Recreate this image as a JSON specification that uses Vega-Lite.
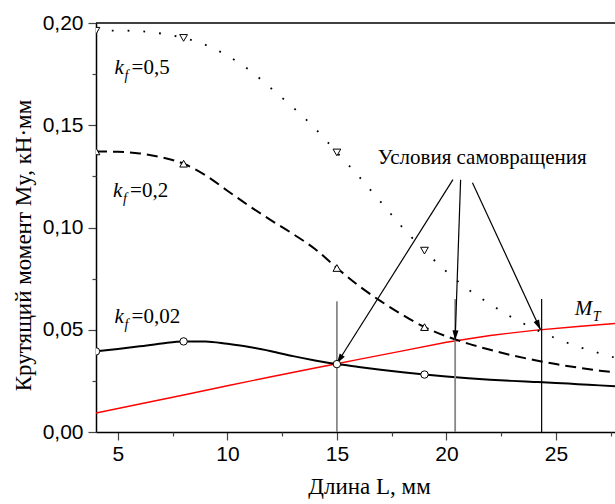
{
  "$schema": "https://vega.github.io/schema/vega-lite/v6.json",
  "width": 519,
  "height": 409,
  "autosize": {"type": "none"},
  "padding": {"left": 96, "top": 23, "right": 0, "bottom": 72},
  "background": "white",
  "config": {
    "view": {"stroke": null},
    "font": "Liberation Serif",
    "axis": {
      "grid": false,
      "domainColor": "black", "domainWidth": 1.5,
      "tickColor": "#444", "tickWidth": 1.2,
      "labelFont": "Liberation Sans", "labelFontSize": 21, "labelColor": "black",
      "titleFont": "Liberation Serif", "titleFontSize": 23, "titleFontWeight": "normal", "titleColor": "black"
    }
  },
  "resolve": {"axis": {"x": "independent", "y": "independent"}},
  "datasets": {
    "curves": [
      {"s": "k002", "x": 4, "y": 0.0394}, {"s": "k002", "x": 5, "y": 0.0406}, {"s": "k002", "x": 6, "y": 0.0419}, {"s": "k002", "x": 7, "y": 0.0433},
      {"s": "k002", "x": 8, "y": 0.0443}, {"s": "k002", "x": 9, "y": 0.0443}, {"s": "k002", "x": 10, "y": 0.0431}, {"s": "k002", "x": 11, "y": 0.0416},
      {"s": "k002", "x": 12, "y": 0.0395}, {"s": "k002", "x": 13, "y": 0.0371}, {"s": "k002", "x": 14, "y": 0.0350}, {"s": "k002", "x": 15, "y": 0.0332},
      {"s": "k002", "x": 16, "y": 0.0318}, {"s": "k002", "x": 17, "y": 0.0304}, {"s": "k002", "x": 18, "y": 0.0292}, {"s": "k002", "x": 19, "y": 0.0281},
      {"s": "k002", "x": 20, "y": 0.0271}, {"s": "k002", "x": 21, "y": 0.0263}, {"s": "k002", "x": 22, "y": 0.0256}, {"s": "k002", "x": 23, "y": 0.0250},
      {"s": "k002", "x": 24, "y": 0.0245}, {"s": "k002", "x": 25, "y": 0.0240}, {"s": "k002", "x": 26, "y": 0.0234}, {"s": "k002", "x": 27, "y": 0.0228},
      {"s": "k002", "x": 28, "y": 0.0222},
      {"s": "k02", "x": 4, "y": 0.1372}, {"s": "k02", "x": 5, "y": 0.1370}, {"s": "k02", "x": 6, "y": 0.1362}, {"s": "k02", "x": 7, "y": 0.1343},
      {"s": "k02", "x": 8, "y": 0.1312}, {"s": "k02", "x": 9, "y": 0.1255}, {"s": "k02", "x": 10, "y": 0.1180}, {"s": "k02", "x": 11, "y": 0.1105},
      {"s": "k02", "x": 12, "y": 0.1035}, {"s": "k02", "x": 13, "y": 0.0968}, {"s": "k02", "x": 14, "y": 0.0895}, {"s": "k02", "x": 15, "y": 0.0802},
      {"s": "k02", "x": 16, "y": 0.0715}, {"s": "k02", "x": 17, "y": 0.0640}, {"s": "k02", "x": 18, "y": 0.0573}, {"s": "k02", "x": 19, "y": 0.0513},
      {"s": "k02", "x": 20, "y": 0.0468}, {"s": "k02", "x": 21, "y": 0.0432}, {"s": "k02", "x": 22, "y": 0.0402}, {"s": "k02", "x": 23, "y": 0.0375},
      {"s": "k02", "x": 24, "y": 0.0352}, {"s": "k02", "x": 25, "y": 0.0332}, {"s": "k02", "x": 26, "y": 0.0315}, {"s": "k02", "x": 27, "y": 0.0300},
      {"s": "k02", "x": 28, "y": 0.0288},
      {"s": "k05", "x": 4, "y": 0.1962}, {"s": "k05", "x": 5, "y": 0.1963}, {"s": "k05", "x": 6, "y": 0.1960}, {"s": "k05", "x": 7, "y": 0.1948},
      {"s": "k05", "x": 8, "y": 0.1927}, {"s": "k05", "x": 9, "y": 0.1893}, {"s": "k05", "x": 10, "y": 0.1840}, {"s": "k05", "x": 11, "y": 0.1770},
      {"s": "k05", "x": 12, "y": 0.1680}, {"s": "k05", "x": 13, "y": 0.1587}, {"s": "k05", "x": 14, "y": 0.1485}, {"s": "k05", "x": 15, "y": 0.1367},
      {"s": "k05", "x": 16, "y": 0.1250}, {"s": "k05", "x": 17, "y": 0.1125}, {"s": "k05", "x": 18, "y": 0.1000}, {"s": "k05", "x": 19, "y": 0.0887},
      {"s": "k05", "x": 20, "y": 0.0785}, {"s": "k05", "x": 21, "y": 0.0697}, {"s": "k05", "x": 22, "y": 0.0625}, {"s": "k05", "x": 23, "y": 0.0560},
      {"s": "k05", "x": 24, "y": 0.0505}, {"s": "k05", "x": 25, "y": 0.0458}, {"s": "k05", "x": 26, "y": 0.0418}, {"s": "k05", "x": 27, "y": 0.0385},
      {"s": "k05", "x": 28, "y": 0.0355},
      {"s": "mt", "x": 4, "y": 0.0093}, {"s": "mt", "x": 6, "y": 0.0137}, {"s": "mt", "x": 8, "y": 0.0181}, {"s": "mt", "x": 10, "y": 0.0226},
      {"s": "mt", "x": 12, "y": 0.0270}, {"s": "mt", "x": 14, "y": 0.0313}, {"s": "mt", "x": 15, "y": 0.0334}, {"s": "mt", "x": 16, "y": 0.0355},
      {"s": "mt", "x": 18, "y": 0.0397}, {"s": "mt", "x": 20, "y": 0.0439}, {"s": "mt", "x": 22, "y": 0.0472}, {"s": "mt", "x": 24, "y": 0.0497},
      {"s": "mt", "x": 26, "y": 0.0516}, {"s": "mt", "x": 28, "y": 0.0533}
    ],
    "markers": [
      {"s": "c", "x": 4, "y": 0.0394}, {"s": "c", "x": 8, "y": 0.0443}, {"s": "c", "x": 15, "y": 0.0332}, {"s": "c", "x": 19, "y": 0.0281},
      {"s": "tu", "x": 4, "y": 0.1372}, {"s": "tu", "x": 8, "y": 0.1312}, {"s": "tu", "x": 15, "y": 0.0802}, {"s": "tu", "x": 19, "y": 0.0513},
      {"s": "td", "x": 4, "y": 0.1962}, {"s": "td", "x": 8, "y": 0.1927}, {"s": "td", "x": 15, "y": 0.1367}, {"s": "td", "x": 19, "y": 0.0887}
    ],
    "arrows": [
      {"x": 20.30, "y": 0.1234, "x2": 15, "y2": 0.0335},
      {"x": 20.65, "y": 0.1234, "x2": 20.4, "y2": 0.0448},
      {"x": 21.19, "y": 0.1219, "x2": 24.3, "y2": 0.0500}
    ],
    "kf": [
      {"x": 4.85, "y": 0.1752, "t": "=0,5"},
      {"x": 4.78, "y": 0.1147, "t": "=0,2"},
      {"x": 4.85, "y": 0.0533, "t": "=0,02"}
    ]
  },
  "encoding": {
    "x": {"field": "x", "type": "quantitative", "scale": {"domain": [4, 27.7], "nice": false, "zero": false}, "axis": null},
    "y": {"field": "y", "type": "quantitative", "scale": {"domain": [0, 0.2], "nice": false, "zero": false}, "axis": null}
  },
  "layer": [
    {
      "data": {"name": "curves"},
      "transform": [{"filter": "datum.s === 'mt'"}],
      "mark": {"type": "line", "color": "#ff0000", "strokeWidth": 1.4, "clip": true},
      "encoding": {
        "x": {
          "field": "x", "type": "quantitative", "scale": {"domain": [4, 27.7], "nice": false, "zero": false},
          "axis": {
            "orient": "bottom",
            "values": [5, 10, 15, 20, 25],
            "format": "d",
            "tickSize": 8, "labelPadding": 3, "labelFlush": false,
            "title": "Длина L, мм",
            "titleFontSize": 23,
            "titleAnchor": "start",
            "titleX": 273, "titleY": 61, "titleAlign": "center", "titleBaseline": "alphabetic"
          }
        },
        "y": {
          "field": "y", "type": "quantitative", "scale": {"domain": [0, 0.2], "nice": false, "zero": false},
          "axis": {
            "orient": "left",
            "values": [0, 0.05, 0.1, 0.15, 0.2],
            "labelExpr": "replace(format(datum.value, '.2f'), '.', ',')",
            "tickSize": 8, "labelPadding": 5, "labelFlush": false,
            "title": "Крутящий момент  My, кН·мм",
            "titleAngle": -90, "titleX": -66, "titleY": 222, "titleAlign": "center", "titleBaseline": "alphabetic"
          }
        }
      }
    },
    {
      "data": {"name": "curves"},
      "transform": [{"filter": "datum.s === 'k002'"}],
      "mark": {"type": "line", "color": "black", "strokeWidth": 2, "interpolate": "monotone", "clip": true},
      "encoding": {
        "x": {
          "field": "x", "type": "quantitative", "scale": {"domain": [4, 27.7], "nice": false, "zero": false},
          "axis": {"orient": "bottom", "values": [7.5, 12.5, 17.5, 22.5, 27.5], "tickSize": 4, "labels": false, "domain": false, "title": null}
        },
        "y": {
          "field": "y", "type": "quantitative", "scale": {"domain": [0, 0.2], "nice": false, "zero": false},
          "axis": {"orient": "left", "values": [0.025, 0.075, 0.125, 0.175], "tickSize": 4, "labels": false, "domain": false, "title": null}
        }
      }
    },
    {
      "data": {"name": "curves"},
      "transform": [{"filter": "datum.s === 'k02'"}],
      "mark": {"type": "line", "color": "black", "strokeWidth": 2, "strokeDash": [11, 6], "interpolate": "monotone", "clip": true}
    },
    {
      "data": {"name": "curves"},
      "transform": [{"filter": "datum.s === 'k05'"}],
      "mark": {"type": "line", "color": "black", "strokeWidth": 1.8, "strokeDash": [1.8, 14], "interpolate": "monotone", "clip": true}
    },
    {
      "data": {"values": [{"x": 4, "x2": 27.7, "y": 0.2}]},
      "mark": {"type": "rule", "color": "black", "strokeWidth": 1.5},
      "encoding": {"x2": {"field": "x2"}}
    },
    {
      "data": {"values": [{"x": 15, "y": 0, "y2": 0.0639}, {"x": 20.4, "y": 0, "y2": 0.065}]},
      "mark": {"type": "rule", "color": "#888888", "strokeWidth": 1.8},
      "encoding": {"y2": {"field": "y2"}}
    },
    {
      "data": {"values": [{"x": 24.35, "y": 0, "y2": 0.065}]},
      "mark": {"type": "rule", "color": "black", "strokeWidth": 1.2},
      "encoding": {"y2": {"field": "y2"}}
    },
    {
      "data": {"name": "arrows"},
      "mark": {"type": "rule", "color": "black", "strokeWidth": 1.2},
      "encoding": {"x2": {"field": "x2"}, "y2": {"field": "y2"}}
    },
    {
      "data": {"values": [{"x": 15, "y": 0.0335}]},
      "mark": {"type": "point", "shape": "M0,0L-0.3,-1L0.3,-1Z", "size": 400, "filled": true, "color": "black", "opacity": 1, "angle": 32.3}
    },
    {
      "data": {"values": [{"x": 20.4, "y": 0.0448}]},
      "mark": {"type": "point", "shape": "M0,0L-0.3,-1L0.3,-1Z", "size": 400, "filled": true, "color": "black", "opacity": 1, "angle": 2}
    },
    {
      "data": {"values": [{"x": 24.3, "y": 0.0500}]},
      "mark": {"type": "point", "shape": "M0,0L-0.3,-1L0.3,-1Z", "size": 400, "filled": true, "color": "black", "opacity": 1, "angle": 335}
    },
    {
      "data": {"name": "markers"},
      "transform": [{"filter": "datum.s === 'c'"}],
      "mark": {"type": "point", "shape": "circle", "size": 55, "filled": true, "fill": "white", "stroke": "black", "strokeWidth": 1, "opacity": 1, "clip": true}
    },
    {
      "data": {"name": "markers"},
      "transform": [{"filter": "datum.s === 'tu'"}],
      "mark": {"type": "point", "shape": "triangle-up", "size": 60, "filled": true, "fill": "white", "stroke": "black", "strokeWidth": 1, "opacity": 1, "clip": true}
    },
    {
      "data": {"name": "markers"},
      "transform": [{"filter": "datum.s === 'td'"}],
      "mark": {"type": "point", "shape": "triangle-down", "size": 60, "filled": true, "fill": "white", "stroke": "black", "strokeWidth": 1, "opacity": 1, "clip": true}
    },
    {
      "data": {"name": "kf"},
      "mark": {"type": "text", "text": "k", "font": "Liberation Serif", "fontStyle": "italic", "fontSize": 21, "align": "left", "baseline": "alphabetic", "color": "black"}
    },
    {
      "data": {"name": "kf"},
      "mark": {"type": "text", "text": "f", "font": "Liberation Serif", "fontStyle": "italic", "fontSize": 14, "align": "left", "baseline": "alphabetic", "dx": 10, "dy": 6, "color": "black"}
    },
    {
      "data": {"name": "kf"},
      "mark": {"type": "text", "font": "Liberation Serif", "fontSize": 21, "align": "left", "baseline": "alphabetic", "dx": 17, "color": "black"},
      "encoding": {"text": {"field": "t"}}
    },
    {
      "data": {"values": [{"x": 25.86, "y": 0.0574}]},
      "mark": {"type": "text", "text": "M", "font": "Liberation Serif", "fontStyle": "italic", "fontSize": 21, "align": "left", "baseline": "alphabetic", "color": "black"}
    },
    {
      "data": {"values": [{"x": 25.86, "y": 0.0574}]},
      "mark": {"type": "text", "text": "T", "font": "Liberation Serif", "fontStyle": "italic", "fontSize": 14, "align": "left", "baseline": "alphabetic", "dx": 18, "dy": 6, "color": "black"}
    },
    {
      "data": {"values": [{"x": 16.87, "y": 0.1312, "t": "Условия самовращения"}]},
      "mark": {"type": "text", "font": "Liberation Serif", "fontSize": 21, "align": "left", "baseline": "alphabetic", "color": "black"},
      "encoding": {"text": {"field": "t"}}
    }
  ]
}
